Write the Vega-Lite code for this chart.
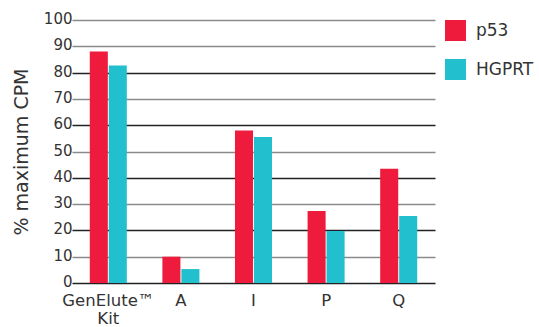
{
  "$schema": "https://vega.github.io/schema/vega-lite/v6.json",
  "width": 363,
  "height": 263,
  "autosize": {"type": "none"},
  "padding": {"left": 72, "top": 20, "right": 104, "bottom": 44},
  "background": "white",
  "config": {
    "view": {"stroke": null},
    "font": "DejaVu Sans",
    "text": {"font": "DejaVu Sans"}
  },
  "data": {
    "values": [
      {"sample": "GenElute™ Kit", "gene": "p53", "cpm": 88},
      {"sample": "GenElute™ Kit", "gene": "HGPRT", "cpm": 82.7},
      {"sample": "A", "gene": "p53", "cpm": 10},
      {"sample": "A", "gene": "HGPRT", "cpm": 5.3},
      {"sample": "I", "gene": "p53", "cpm": 58},
      {"sample": "I", "gene": "HGPRT", "cpm": 55.5},
      {"sample": "P", "gene": "p53", "cpm": 27.4},
      {"sample": "P", "gene": "HGPRT", "cpm": 19.8},
      {"sample": "Q", "gene": "p53", "cpm": 43.4},
      {"sample": "Q", "gene": "HGPRT", "cpm": 25.5}
    ]
  },
  "mark": {"type": "bar"},
  "encoding": {
    "x": {
      "field": "sample",
      "type": "nominal",
      "sort": ["GenElute™ Kit", "A", "I", "P", "Q"],
      "scale": {"paddingInner": 0.49, "paddingOuter": 0.245},
      "axis": {
        "title": null,
        "labelAngle": 0,
        "domain": false,
        "ticks": false,
        "labelFontSize": 16.5,
        "labelColor": "#333",
        "labelPadding": 9,
        "labelLineHeight": 18,
        "labelExpr": "datum.value == 'GenElute™ Kit' ? ['GenElute™', 'Kit'] : datum.value"
      }
    },
    "xOffset": {
      "field": "gene",
      "type": "nominal",
      "sort": ["p53", "HGPRT"],
      "scale": {"paddingInner": 0.05}
    },
    "y": {
      "field": "cpm",
      "type": "quantitative",
      "scale": {"domain": [0, 100], "nice": false},
      "axis": {
        "title": "% maximum CPM",
        "titleFontSize": 19,
        "titleFontWeight": "normal",
        "titleColor": "#333",
        "titlePadding": 12,
        "values": [0, 10, 20, 30, 40, 50, 60, 70, 80, 90, 100],
        "domain": false,
        "ticks": false,
        "labelFontSize": 15,
        "labelColor": "#333",
        "labelPadding": 0,
        "labelOffset": -1.5,
        "gridWidth": 1.5,
        "gridColor": {"condition": {"test": "datum.value % 20 == 0 && datum.value < 100", "value": "#222"}, "value": "#8a8a8a"}
      }
    },
    "color": {
      "field": "gene",
      "type": "nominal",
      "sort": ["p53", "HGPRT"],
      "scale": {"domain": ["p53", "HGPRT"], "range": ["#EE1B3C", "#22BFCE"]},
      "legend": {
        "title": null,
        "orient": "none",
        "legendX": 373,
        "legendY": 0,
        "symbolType": "square",
        "symbolSize": 441,
        "symbolStrokeWidth": 0,
        "labelFontSize": 17,
        "labelColor": "#333",
        "labelOffset": 10,
        "rowPadding": 18
      }
    }
  }
}
